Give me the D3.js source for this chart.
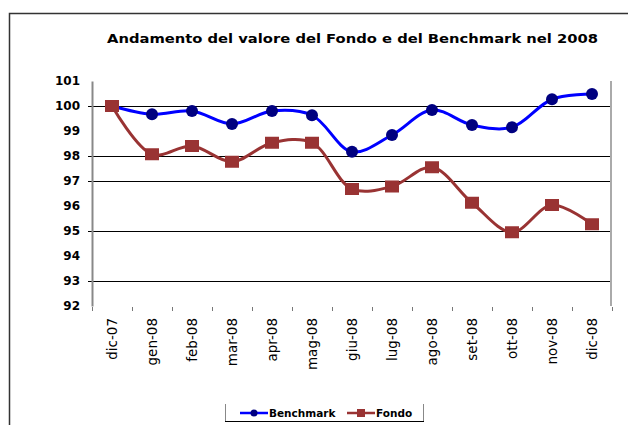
<!DOCTYPE html>
<html lang="it">
<head>
  <meta charset="UTF-8" />
  <title>Andamento del valore del Fondo e del Benchmark nel 2008</title>
  <script src="https://d3js.org/d3.v7.min.js"></script>
  <style>
    body { margin: 0; padding: 0; background: #fff; }
    svg { display: block; font-family: "DejaVu Sans", Verdana, sans-serif; }
  </style>
</head>
<body>
  <svg id="chart" width="628" height="425"></svg>

  <script>
    // values
    const months = ["dic-07", "gen-08", "feb-08", "mar-08", "apr-08", "mag-08", "giu-08",
                    "lug-08", "ago-08", "set-08", "ott-08", "nov-08", "dic-08"];
    const benchmark = [100, 99.67, 99.8, 99.28, 99.8, 99.63, 98.17, 98.84, 99.84, 99.24, 99.15, 100.27, 100.48];
    const fondo = [100, 98.07, 98.4, 97.77, 98.53, 98.53, 96.68, 96.78, 97.55, 96.13, 94.95, 96.04, 95.27];
    const yTicks = [92, 93, 94, 95, 96, 97, 98, 99, 100, 101];
    const gridValues = [93, 95, 97, 98, 100];

    const svg = d3.select("#chart");

    // outer frame (top and left only)
    svg.append("path")
      .attr("d", "M9.5,425 V13.5 H628")
      .attr("fill", "none")
      .attr("stroke", "#333")
      .attr("stroke-width", 1.5);

    svg.append("text")
      .attr("x", 107)
      .attr("y", 43)
      .attr("font-size", 13)
      .attr("font-weight", "bold")
      .attr("textLength", 491)
      .attr("lengthAdjust", "spacingAndGlyphs")
      .text("Andamento del valore del Fondo e del Benchmark nel 2008");

    const x = d3.scaleBand().domain(months).range([92, 612]);
    const y = d3.scaleLinear().domain([92, 101]).range([306, 81]);

    // gridlines
    svg.append("g")
      .selectAll("line")
      .data(gridValues)
      .join("line")
      .attr("x1", 88).attr("x2", 611)
      .attr("y1", d => Math.round(y(d)) + 0.5)
      .attr("y2", d => Math.round(y(d)) + 0.5)
      .attr("stroke", "#000")
      .attr("stroke-width", 1);

    // y axis
    const yAxis = svg.append("g")
      .attr("transform", "translate(92,0)")
      .call(d3.axisLeft(y).tickValues(yTicks).tickSize(0).tickPadding(12));
    yAxis.select(".domain").attr("stroke", "#888").attr("stroke-width", 2);
    yAxis.selectAll("text")
      .attr("font-size", 12)
      .attr("font-weight", "bold")
      .attr("fill", "#000")
      .attr("font-family", "DejaVu Sans, sans-serif");

    // right border of plot
    svg.append("line")
      .attr("x1", 611).attr("x2", 611)
      .attr("y1", 81).attr("y2", 306)
      .attr("stroke", "#aaa").attr("stroke-width", 2);

    // x axis: ticks only, labels rotated
    const xAxis = svg.append("g")
      .attr("transform", "translate(0,306)");
    xAxis.selectAll("line")
      .data(months.concat(["_end"]))
      .join("line")
      .attr("x1", (d, i) => 92 + i * x.step() + 0.5)
      .attr("x2", (d, i) => 92 + i * x.step() + 0.5)
      .attr("y1", 1).attr("y2", 5)
      .attr("stroke", "#777");
    xAxis.selectAll("text")
      .data(months)
      .join("text")
      .attr("transform", d => `translate(${x(d) + x.bandwidth() / 2 + 5},12) rotate(-90)`)
      .attr("text-anchor", "end")
      .attr("font-size", 13.5)
      .attr("fill", "#000")
      .text(d => d);

    const line = d3.line()
      .x((d, i) => x(months[i]) + x.bandwidth() / 2)
      .y(d => y(d))
      .curve(d3.curveCatmullRom.alpha(0.5));

    svg.append("path")
      .datum(benchmark)
      .attr("d", line)
      .attr("fill", "none")
      .attr("stroke", "#0000ff")
      .attr("stroke-width", 3);

    svg.append("path")
      .datum(fondo)
      .attr("d", line)
      .attr("fill", "none")
      .attr("stroke", "#993333")
      .attr("stroke-width", 3);

    svg.append("g")
      .selectAll("circle")
      .data(benchmark)
      .join("circle")
      .attr("cx", (d, i) => x(months[i]) + x.bandwidth() / 2)
      .attr("cy", d => y(d))
      .attr("r", 6)
      .attr("fill", "#000080");

    svg.append("g")
      .selectAll("rect")
      .data(fondo)
      .join("rect")
      .attr("x", (d, i) => x(months[i]) + x.bandwidth() / 2 - 7)
      .attr("y", d => y(d) - 6)
      .attr("width", 14)
      .attr("height", 12)
      .attr("fill", "#993333");

    // legend
    const legend = svg.append("g");
    legend.append("path")
      .attr("d", "M225.5,404 V421.5 H423.5 V404")
      .attr("fill", "none")
      .attr("stroke", "#888")
      .attr("stroke-width", 1);
    legend.append("line")
      .attr("x1", 225).attr("x2", 424).attr("y1", 421.5).attr("y2", 421.5)
      .attr("stroke", "#000");

    const items = [
      { name: "Benchmark", x0: 240, line: "#0000ff", mark: "#000080", shape: "circle" },
      { name: "Fondo", x0: 347, line: "#993333", mark: "#993333", shape: "rect" }
    ];
    items.forEach(it => {
      legend.append("line")
        .attr("x1", it.x0).attr("x2", it.x0 + 28)
        .attr("y1", 413).attr("y2", 413)
        .attr("stroke", it.line).attr("stroke-width", 2.5);
      if (it.shape === "circle") {
        legend.append("circle").attr("cx", it.x0 + 14).attr("cy", 413).attr("r", 3.5).attr("fill", it.mark);
      } else {
        legend.append("rect").attr("x", it.x0 + 10).attr("y", 409).attr("width", 8).attr("height", 8).attr("fill", it.mark);
      }
      legend.append("text")
        .attr("x", it.x0 + 29)
        .attr("y", 417)
        .attr("font-size", 10.5)
        .attr("font-weight", "bold")
        .text(it.name);
    });
  </script>
</body>
</html>
